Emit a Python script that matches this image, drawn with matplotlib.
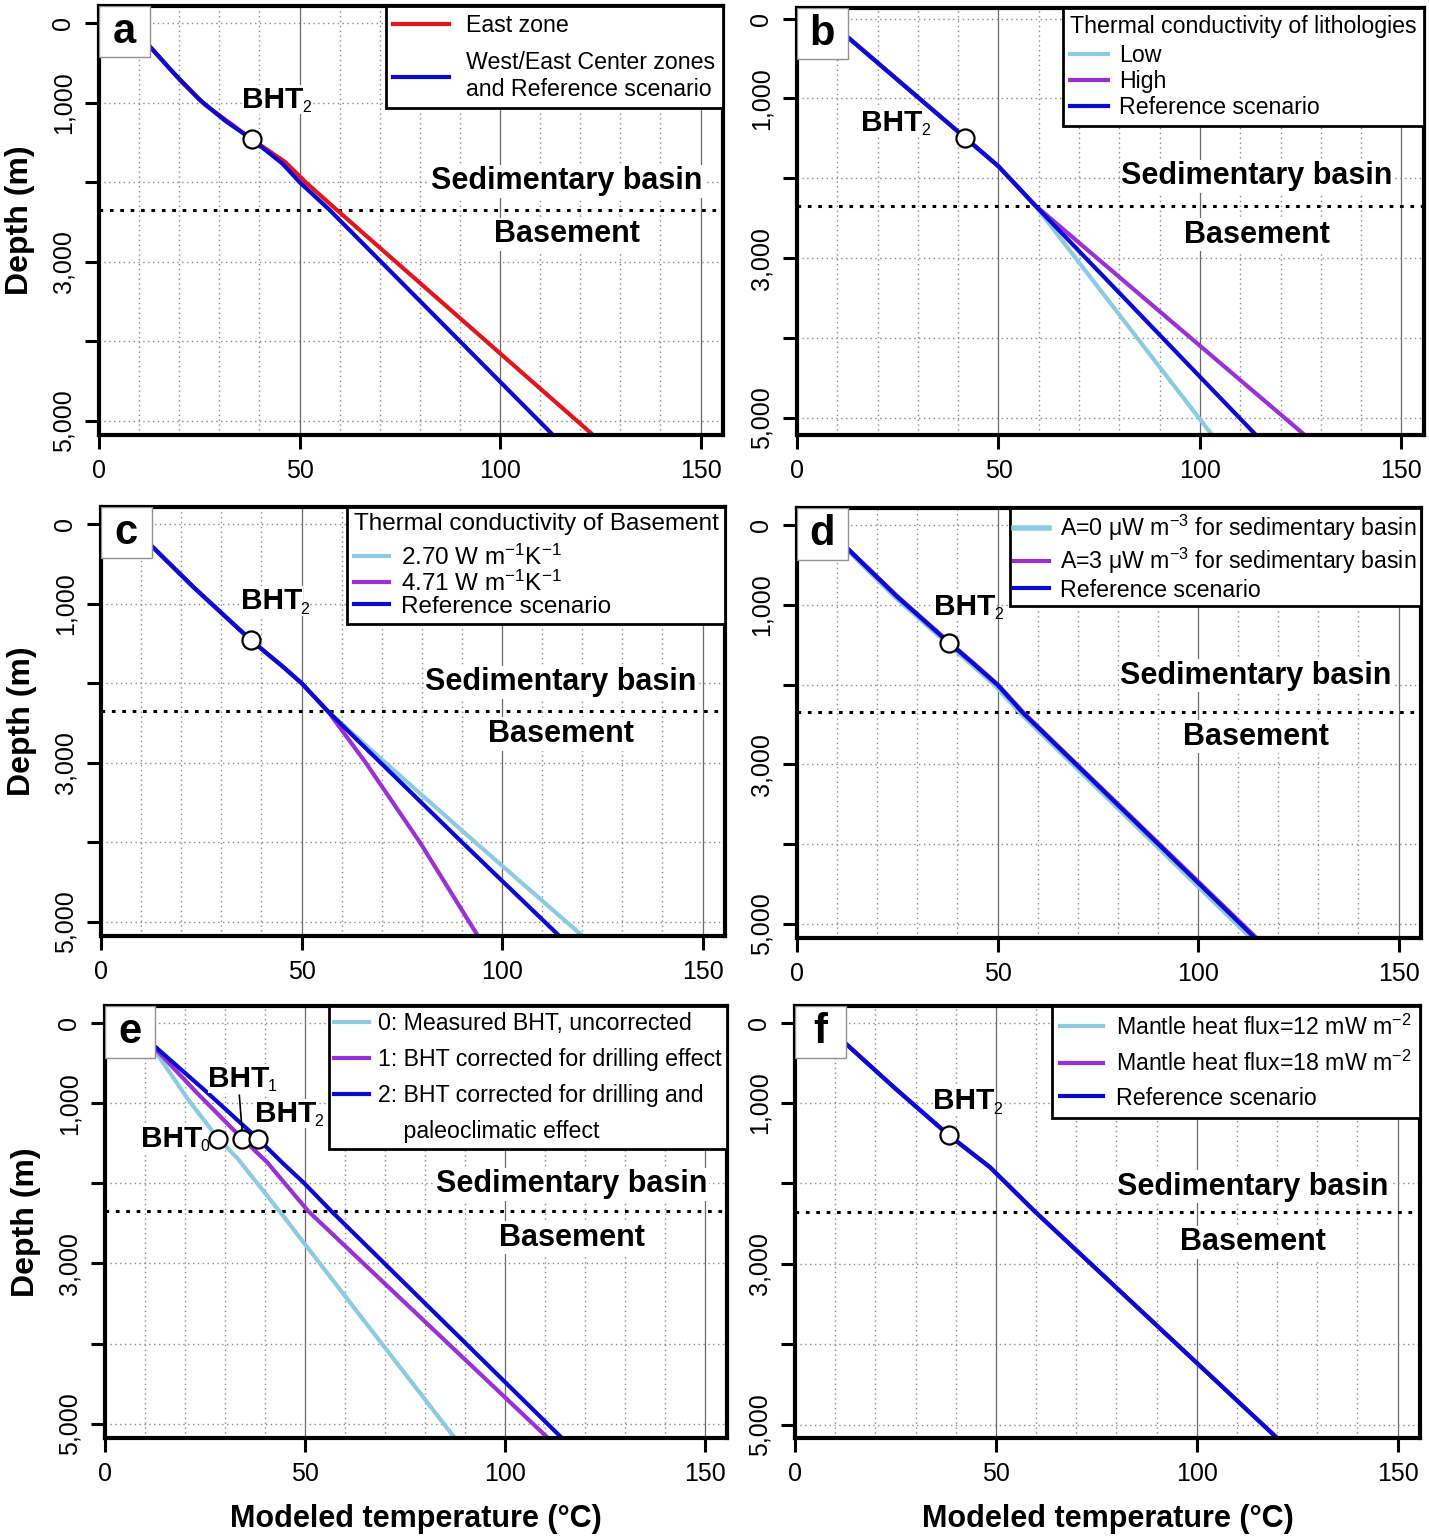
import matplotlib.pyplot as plt
from matplotlib.patches import Rectangle
from matplotlib.lines import Line2D

plt.rcParams['font.family'] = ['Liberation Sans', 'DejaVu Sans']
plt.rcParams['mathtext.fontset'] = 'custom'
plt.rcParams['mathtext.rm'] = 'Liberation Sans'
plt.rcParams['mathtext.it'] = 'Liberation Sans'
plt.rcParams['mathtext.bf'] = 'Liberation Sans:bold'

# colours
RED = '#e3151c'
BLUE = '#0a0ad2'
LBLUE = '#8ccbe3'
PURPLE = '#9b30d6'

# ---- data: depth (m) and modelled temperature (degC) ----
# panel a
a_ref_depth = [290, 620, 960, 1230, 1460, 1770, 2000, 2350, 5180]
a_ref_temp = [12.6, 18.5, 25.0, 31.5, 38.1, 45.8, 50.0, 57.5, 113.2]
a_east_depth = [290, 730, 1030, 1460, 1750, 2000, 2350, 5180]
a_east_temp = [12.6, 20.4, 26.5, 38.1, 46.5, 51.5, 59.3, 123.2]
a_bht = [38.1, 1460]

# panel b
b_depth = [245, 1490, 1850, 2335, 5217]
b_low = [12.9, 41.7, 50.0, 59.0, 103.0]
b_high = [12.9, 41.7, 50.0, 59.0, 126.0]
b_ref = [12.9, 41.7, 50.0, 59.0, 113.9]
b_bht = [41.7, 1490]

# panel c
c_depth = [284, 790, 1460, 1795, 2000, 2355, 3000, 4000, 5180]
c_k270 = [12.8, 23.0, 37.4, 45.4, 50.0, 56.6, 70.9, 93.3, 120.1]
c_k471 = [12.8, 23.0, 37.4, 45.4, 50.0, 56.6, 66.0, 79.5, 94.0]
c_ref = [12.8, 23.0, 37.4, 45.4, 50.0, 56.6, 69.7, 90.0, 114.3]
c_bht = [37.4, 1460]

# panel d
d_depth = [310, 900, 1475, 1730, 2005, 2354, 5180]
d_a0 = [12.7, 24.6, 37.5, 43.3, 49.5, 55.8, 113.4]
d_a3 = [13.0, 25.2, 38.1, 44.0, 50.2, 56.5, 114.6]
d_ref = [12.9, 25.0, 37.9, 43.8, 50.0, 56.3, 114.2]
d_bht = [37.9, 1475]

# panel e
e0_depth = [330, 960, 1440, 1680, 2345, 5180]
e0_temp = [12.3, 20.9, 28.3, 33.0, 43.6, 87.5]
e1_depth = [320, 870, 1440, 1733, 2345, 5180]
e1_temp = [12.6, 23.0, 34.3, 40.5, 50.8, 110.8]
e2_depth = [300, 840, 1440, 1754, 1991, 2336, 5180]
e2_temp = [12.7, 25.0, 38.2, 44.6, 49.7, 56.4, 114.3]
e_bht_temp = [28.3, 34.3, 38.2]
e_bht_depth = [1440, 1440, 1440]

# panel f
f_depth = [272, 820, 1400, 1796, 2348, 5180]
f_q12 = [12.9, 25.0, 38.3, 48.5, 59.7, 120.3]
f_q18 = [12.9, 25.0, 38.3, 48.5, 59.7, 120.3]
f_ref = [12.9, 25.0, 38.3, 48.5, 59.7, 120.3]
f_bht = [38.3, 1400]

boundary_depth = 2350
xticks = [0, 50, 100, 150]
yticks = [0, 1000, 2000, 3000, 4000, 5000]
ytick_labels = ['0', '1,000', '', '3,000', '', '5,000']

W, H = 1429, 1538
fig = plt.figure(figsize=(W / 100, H / 100), dpi=100)
LFS = 16.7   # legend font size


def add(l, r, t, b):
    return fig.add_axes([l / W, 1 - b / H, (r - l) / W, (b - t) / H])


def setup(ax, letter, zone_x, sed_y, base_y, ylim=(5180, -215),
          left=False, bottom=False):
    ax.set_xlim(0, 155.6)
    ax.set_ylim(*ylim)
    ax.set_xticks(xticks)
    ax.set_xticks(range(0, 160, 10), minor=True)
    ax.set_yticks(yticks)
    ax.set_yticklabels(ytick_labels, rotation=90, va='center')
    ax.tick_params(which='major', length=10, width=2.2, labelsize=18, pad=7)
    ax.tick_params(which='minor', length=0)
    ax.set_axisbelow(True)
    ax.grid(which='minor', axis='x', ls=(0, (1, 2.5)), color='#8a8a8a', lw=1)
    ax.grid(which='major', axis='x', ls='-', color='#6a6a6a', lw=0.9)
    ax.grid(which='major', axis='y', ls=(0, (1, 2.5)), color='#8a8a8a', lw=1)
    for s in ax.spines.values():
        s.set_linewidth(3)
    ax.axhline(boundary_depth, color='black', ls=(0, (1.2, 2.2)), lw=2.2, zorder=2)
    kw = dict(fontsize=22, fontweight='bold', ha='center', va='center', zorder=3,
              bbox=dict(facecolor='white', edgecolor='none', pad=1))
    ax.text(zone_x, sed_y, 'Sedimentary basin', **kw)
    ax.text(zone_x, base_y, 'Basement', **kw)
    ax.add_patch(Rectangle((0, 1), 0.081, -0.12, transform=ax.transAxes,
                           facecolor='white', edgecolor='#909090', lw=1, zorder=6))
    ax.text(0.0405, 0.94, letter, transform=ax.transAxes, fontsize=30,
            fontweight='bold', ha='center', va='center', zorder=7)
    if left:
        ax.set_ylabel('Depth (m)', fontsize=23, fontweight='bold', labelpad=12)
    if bottom:
        ax.set_xlabel('Modeled temperature (°C)', fontsize=22, fontweight='bold',
                      labelpad=13)


def circle(ax, x, y):
    ax.plot([x], [y], 'o', ms=13, mfc='white', mec='black', mew=1.6, zorder=8)


def bht_text(ax, x, y, n, ha='left'):
    t = ax.text(x, y, 'BHT', fontsize=21.5, fontweight='bold', ha=ha,
                va='center', zorder=4,
                bbox=dict(facecolor='white', edgecolor='none', pad=0.5))
    ax.annotate(n, xy=(1, 0), xycoords=t, xytext=(-1.2, 4.3),
                textcoords='offset points', fontsize=11.5, ha='left',
                va='center', zorder=4)


def legend(ax, title=None, fs=LFS, title_gap=None, **kw):
    opts = dict(loc='upper right', bbox_to_anchor=(1, 1), borderaxespad=0,
                fancybox=False, edgecolor='black', framealpha=1, fontsize=fs,
                handlelength=1.5, handletextpad=0.5, borderpad=0.3,
                labelspacing=0.18, alignment='left')
    opts.update(kw)
    if title:
        opts['title'] = title
        opts['title_fontsize'] = fs
    leg = ax.legend(**opts)
    if title_gap is not None:
        leg._legend_box.sep = title_gap * fs
    leg.get_frame().set_linewidth(2)
    leg.set_zorder(10)
    return leg


LW = 3

# a
ax = add(99, 723, 6, 435)
setup(ax, 'a', 116.7, 1987, 2654, left=True)
ax.plot(a_east_temp, a_east_depth, color=RED, lw=LW, label='East zone')
ax.plot(a_ref_temp, a_ref_depth, color=BLUE, lw=LW,
        label='West/East Center zones\nand Reference scenario')
circle(ax, *a_bht)
bht_text(ax, 35.7, 965, '2')
legend(ax, handlelength=2.4, handletextpad=0.75, borderpad=0.33, labelspacing=0.62)

# b
ax = add(797, 1424, 8, 435)
setup(ax, 'b', 114.2, 1975, 2705, ylim=(5217, -134))
ax.plot(b_low, b_depth, color=LBLUE, lw=LW, label='Low')
ax.plot(b_high, b_depth, color=PURPLE, lw=LW, label='High')
ax.plot(b_ref, b_depth, color=BLUE, lw=LW, label='Reference scenario')
circle(ax, *b_bht)
bht_text(ax, 15.9, 1303, '2')
legend(ax, title='Thermal conductivity of lithologies', handlelength=1.64,
       handletextpad=0.47, borderpad=0.3, labelspacing=0.12, title_gap=0.28)

# c
ax = add(101, 725, 507, 936)
setup(ax, 'c', 114.7, 1987, 2640, left=True)
ax.plot(c_k270, c_depth, color=LBLUE, lw=LW, label='2.70 W m$^{\\mathrm{-1}}$K$^{\\mathrm{-1}}$')
ax.plot(c_k471, c_depth, color=PURPLE, lw=LW, label='4.71 W m$^{\\mathrm{-1}}$K$^{\\mathrm{-1}}$')
ax.plot(c_ref, c_depth, color=BLUE, lw=LW, label='Reference scenario')
circle(ax, *c_bht)
bht_text(ax, 34.9, 967, '2')
legend(ax, title='Thermal conductivity of Basement', fs=17.5, handlelength=1.45,
       handletextpad=0.5, borderpad=0.26, labelspacing=0.02, title_gap=0.38)

# d
ax = add(797, 1421, 508, 938)
setup(ax, 'd', 114.5, 1887, 2654)
ax.plot(d_a0, d_depth, color=LBLUE, lw=LW + 1,
        label='A=0 μW m$^{\\mathrm{-3}}$ for sedimentary basin')
ax.plot(d_a3, d_depth, color=PURPLE, lw=LW,
        label='A=3 μW m$^{\\mathrm{-3}}$ for sedimentary basin')
ax.plot(d_ref, d_depth, color=BLUE, lw=LW, label='Reference scenario')
circle(ax, *d_bht)
bht_text(ax, 34.2, 1021, '2')
legend(ax, handlelength=1.5, handletextpad=0.47, borderpad=0.2, labelspacing=0.12)

# e
ax = add(105, 727, 1006, 1438)
setup(ax, 'e', 116.8, 2013, 2680, left=True, bottom=True)
ax.plot(e0_temp, e0_depth, color=LBLUE, lw=LW, label='0: Measured BHT, uncorrected')
ax.plot(e1_temp, e1_depth, color=PURPLE, lw=LW,
        label='1: BHT corrected for drilling effect')
ax.plot(e2_temp, e2_depth, color=BLUE, lw=LW,
        label='2: BHT corrected for drilling and')
ax.plot([33.6, 34.4], [900, 1400], color='black', lw=1.2, zorder=7)
for t, d in zip(e_bht_temp, e_bht_depth):
    circle(ax, t, d)
bht_text(ax, 24.4, 1440, '0', ha='right')
bht_text(ax, 33.5, 692, '1', ha='center')
bht_text(ax, 37.5, 1130, '2')
h, l = ax.get_legend_handles_labels()
h.append(Line2D([], [], color='none'))
l.append('    paleoclimatic effect')
legend(ax, handles=h, labels=l, handlelength=1.47, handletextpad=0.39,
       borderpad=0.25, labelspacing=0.57)

# f
ax = add(795, 1420, 1006, 1438)
setup(ax, 'f', 114.0, 2038, 2730, ylim=(5167, -208), bottom=True)
ax.plot(f_q12, f_depth, color=LBLUE, lw=LW, label='Mantle heat flux=12 mW m$^{\\mathrm{-2}}$')
ax.plot(f_q18, f_depth, color=PURPLE, lw=LW, label='Mantle heat flux=18 mW m$^{\\mathrm{-2}}$')
ax.plot(f_ref, f_depth, color=BLUE, lw=LW, label='Reference scenario')
circle(ax, *f_bht)
bht_text(ax, 34.4, 975, '2')
legend(ax, handlelength=1.85, handletextpad=0.56, borderpad=0.36, labelspacing=0.47)

fig.savefig('out.png', dpi=100)
